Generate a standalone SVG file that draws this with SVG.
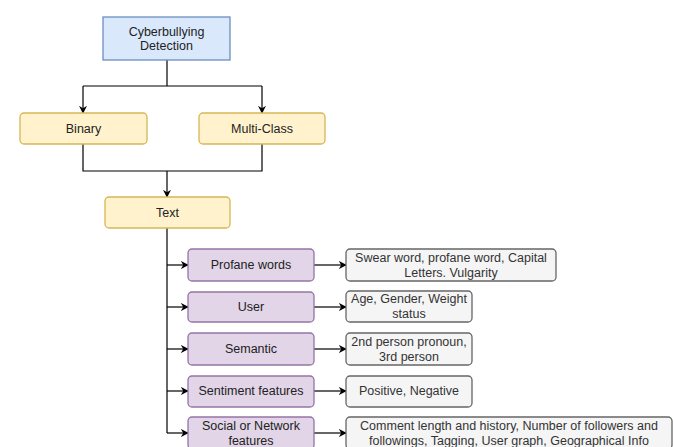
<svg xmlns="http://www.w3.org/2000/svg" width="673" height="447" viewBox="0 0 673 447">
<defs>
<marker id="arr" viewBox="0 0 10 10" refX="9" refY="5" markerWidth="8" markerHeight="8" orient="auto" markerUnits="userSpaceOnUse">
<path d="M0,0 L10,5 L0,10 L3,5 Z" fill="#000"/>
</marker>
<style>
text{font-family:"Liberation Sans",Arial,sans-serif;font-size:12.5px;text-anchor:middle;fill:#222}
.blue{fill:#dae8fc;stroke:#6c8ebf;stroke-width:1.3}
.yel{fill:#fff2cc;stroke:#d6b656;stroke-width:1.3}
.pur{fill:#e1d5e7;stroke:#9673a6;stroke-width:1.3}
.gry{fill:#f5f5f5;stroke:#666;stroke-width:1.3}
.gt{fill:#333}
.c{fill:none;stroke:#000;stroke-width:1.2}
</style>
</defs>
<rect width="673" height="447" fill="#fff"/>
<g id="connectors">
<path class="c" d="M167,60 V86"/>
<path class="c" d="M83,86 H262"/>
<path class="c" d="M83,86 V113" marker-end="url(#arr)"/>
<path class="c" d="M262,86 V113" marker-end="url(#arr)"/>
<path class="c" d="M83,144 V171 H262 V144"/>
<path class="c" d="M167,171 V197" marker-end="url(#arr)"/>
<path class="c" d="M167,228 V433"/>
<path class="c" d="M167,265 H188" marker-end="url(#arr)"/>
<path class="c" d="M167,307 H188" marker-end="url(#arr)"/>
<path class="c" d="M167,349 H188" marker-end="url(#arr)"/>
<path class="c" d="M167,391 H188" marker-end="url(#arr)"/>
<path class="c" d="M167,433 H188" marker-end="url(#arr)"/>
<path class="c" d="M314,265 H346" marker-end="url(#arr)"/>
<path class="c" d="M314,307 H346" marker-end="url(#arr)"/>
<path class="c" d="M314,349 H346" marker-end="url(#arr)"/>
<path class="c" d="M314,391 H346" marker-end="url(#arr)"/>
<path class="c" d="M314,433 H346" marker-end="url(#arr)"/>
</g>
<g id="cyberbullying">
<rect class="blue" x="103" y="17" width="127" height="43"/>
<text x="166.5" y="36">Cyberbullying</text>
<text x="166.5" y="50">Detection</text>
</g>
<g id="binary">
<rect class="yel" x="20" y="113" width="127" height="31" rx="4"/>
<text x="83.5" y="133">Binary</text>
</g>
<g id="multiclass">
<rect class="yel" x="199" y="113" width="126" height="31" rx="4"/>
<text x="262" y="133">Multi-Class</text>
</g>
<g id="text">
<rect class="yel" x="105" y="197" width="125" height="31" rx="4"/>
<text x="167.5" y="217">Text</text>
</g>
<g id="profane">
<rect class="pur" x="188" y="249" width="126" height="32" rx="4"/>
<text x="251" y="269">Profane words</text>
</g>
<g id="user">
<rect class="pur" x="188" y="292" width="126" height="30" rx="4"/>
<text x="251" y="311">User</text>
</g>
<g id="semantic">
<rect class="pur" x="188" y="333" width="126" height="32" rx="4"/>
<text x="251" y="353">Semantic</text>
</g>
<g id="sentiment">
<rect class="pur" x="188" y="376" width="126" height="31" rx="4"/>
<text x="251" y="395">Sentiment features</text>
</g>
<g id="social">
<rect class="pur" x="188" y="417" width="126" height="32" rx="4"/>
<text x="251" y="430">Social or Network</text>
<text x="251" y="445">features</text>
</g>
<g id="profane-desc">
<rect class="gry" x="346" y="249" width="210" height="32" rx="4"/>
<text class="gt" x="451" y="262">Swear word, profane word, Capital</text>
<text class="gt" x="451" y="277">Letters. Vulgarity</text>
</g>
<g id="user-desc">
<rect class="gry" x="346" y="291" width="126" height="31" rx="4"/>
<text class="gt" x="409" y="303">Age, Gender, Weight</text>
<text class="gt" x="409" y="318">status</text>
</g>
<g id="semantic-desc">
<rect class="gry" x="346" y="333" width="126" height="32" rx="4"/>
<text class="gt" x="409" y="346">2nd person pronoun,</text>
<text class="gt" x="409" y="361">3rd person</text>
</g>
<g id="sentiment-desc">
<rect class="gry" x="346" y="376" width="126" height="31" rx="4"/>
<text class="gt" x="409" y="395">Positive, Negative</text>
</g>
<g id="social-desc">
<rect class="gry" x="346" y="417" width="326" height="32" rx="4"/>
<text class="gt" x="509" y="430">Comment length and history, Number of followers and</text>
<text class="gt" x="509" y="445">followings, Tagging, User graph, Geographical Info</text>
</g>
</svg>
